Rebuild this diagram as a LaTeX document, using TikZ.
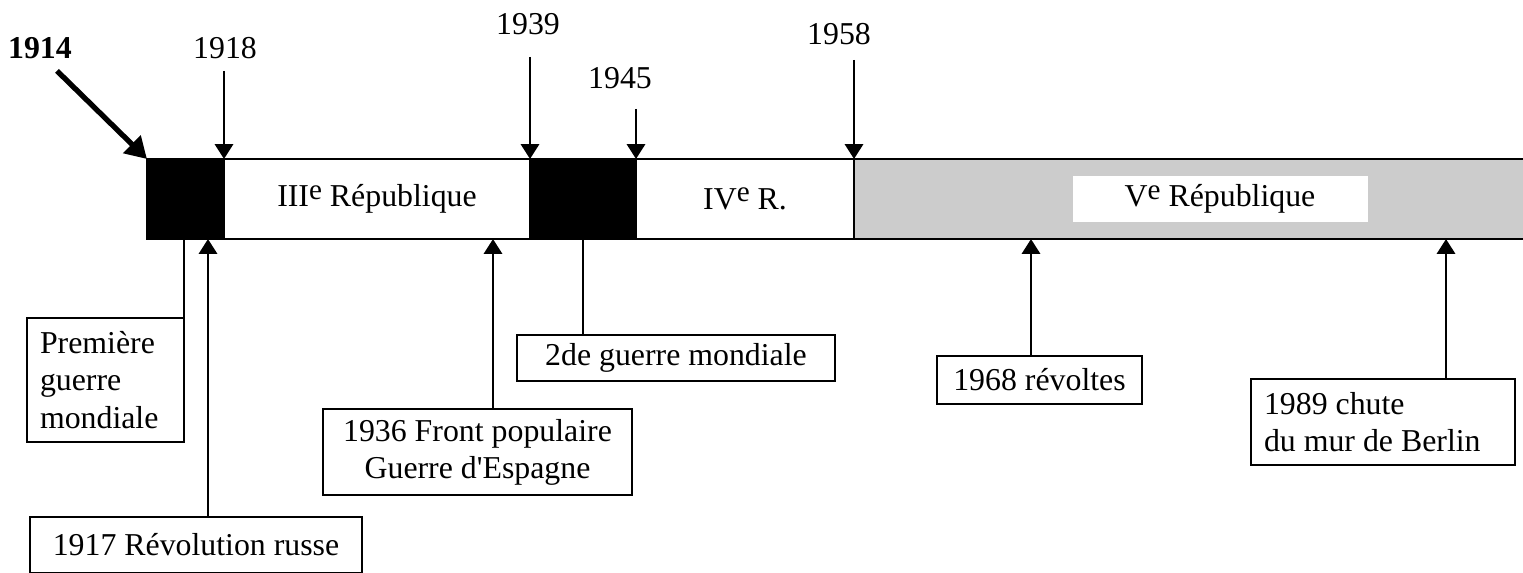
\documentclass[tikz,border=0pt]{standalone}
\usepackage{fontspec}
\setmainfont{Liberation Serif}
\usetikzlibrary{arrows.meta,positioning}
\newcommand{\pxu}{0.377pt}
\newcommand{\rsup}[1]{\raisebox{2.8pt}{\fontsize{11}{12}\selectfont #1}}

\begin{document}
\begin{tikzpicture}[x=\pxu, y=-\pxu, font=\fontsize{12}{14}\selectfont, >={Triangle[width=6.8pt,length=5.6pt]},
  seg/.style={draw, line width=1.1pt, inner sep=0pt, outer sep=0pt, minimum height=80*\pxu},
  box/.style={draw, line width=0.75pt, inner sep=0pt, outer sep=0pt, align=center, anchor=north west},
  year/.style={inner sep=1pt},
  arr/.style={->, line width=1.1pt},
  link/.style={line width=1.1pt}]
\useasboundingbox (0,0) rectangle (1523,572);
% the bar
\node[seg, fill=black, minimum width=77*\pxu] (war1) at (185.5,199) {};
\node[seg, minimum width=306*\pxu, right=0pt of war1] (rep3) {III\rsup{e} République};
\node[seg, fill=black, minimum width=106*\pxu, right=0pt of rep3] (war2) {};
\node[seg, minimum width=218*\pxu, right=0pt of war2] (rep4) {IV\rsup{e} R.};
\node[seg, fill=black!20, minimum width=690*\pxu, right=0pt of rep4] (rep5) {};
\node[fill=white, inner sep=0pt, minimum width=295*\pxu, minimum height=46*\pxu] (lab5) at (1220,199) {V\rsup{e} République};
% dates above
\node[year] (y1914) at (40,48) {\textbf{1914}};
\node[year] (y1918) at (225,48) {1918};
\node[year] (y1939) at (528,24) {1939};
\node[year] (y1945) at (620,78) {1945};
\node[year] (y1958) at (839,34) {1958};
\draw[-{Triangle[width=9pt,length=8pt]}, line width=2pt] ([xshift=17*\pxu,yshift=-9*\pxu]y1914.south) -- (war1.north west);
\draw[arr, shorten <=9*\pxu] (rep3.north west |- y1918.south) -- (rep3.north west);
\draw[arr, shorten <=19*\pxu] (war2.north west |- y1939.south) -- (war2.north west);
\draw[arr, shorten <=17*\pxu] (war2.north east |- y1945.south) -- (war2.north east);
\draw[arr, shorten <=12*\pxu] (rep5.north west |- y1958.south) -- (rep5.north west);
% events below
\node[box, align=flush left, text width=131*\pxu, inner xsep=13*\pxu, minimum height=124*\pxu] (ww1) at (27,318) {Première\\guerre\\mondiale};
\node[box, minimum width=332*\pxu, minimum height=56*\pxu] (rev17) at (30,517) {1917 Révolution russe};
\node[box, minimum width=309*\pxu, minimum height=86*\pxu] (front36) at (323,409) {1936 Front populaire\\Guerre d\textquotesingle Espagne};
\node[box, minimum width=318*\pxu, minimum height=46*\pxu] (ww2) at (517,335) {2de guerre mondiale};
\node[box, minimum width=205*\pxu, minimum height=48*\pxu] (rev68) at (937,356) {1968 révoltes};
\node[box, align=flush left, text width=238*\pxu, inner xsep=13*\pxu, minimum height=86*\pxu] (fall89) at (1251,379) {1989 chute\\du mur de Berlin};
\draw[link] (war1.south -| ww1.north east) -- (ww1.north east);
\draw[arr] ([xshift=12*\pxu]rev17.north) coordinate (t17) -- (t17 |- war1.south);
\draw[arr] ([xshift=15.5*\pxu]front36.north) coordinate (t36) -- (t36 |- rep3.south);
\draw[link] (war2.south) -- (war2.south |- ww2.north);
\draw[arr] ([xshift=-8.5*\pxu]rev68.north) coordinate (t68) -- (t68 |- rep5.south);
\draw[arr] ([xshift=63*\pxu]fall89.north) coordinate (t89) -- (t89 |- rep5.south);
\end{tikzpicture}
\end{document}
